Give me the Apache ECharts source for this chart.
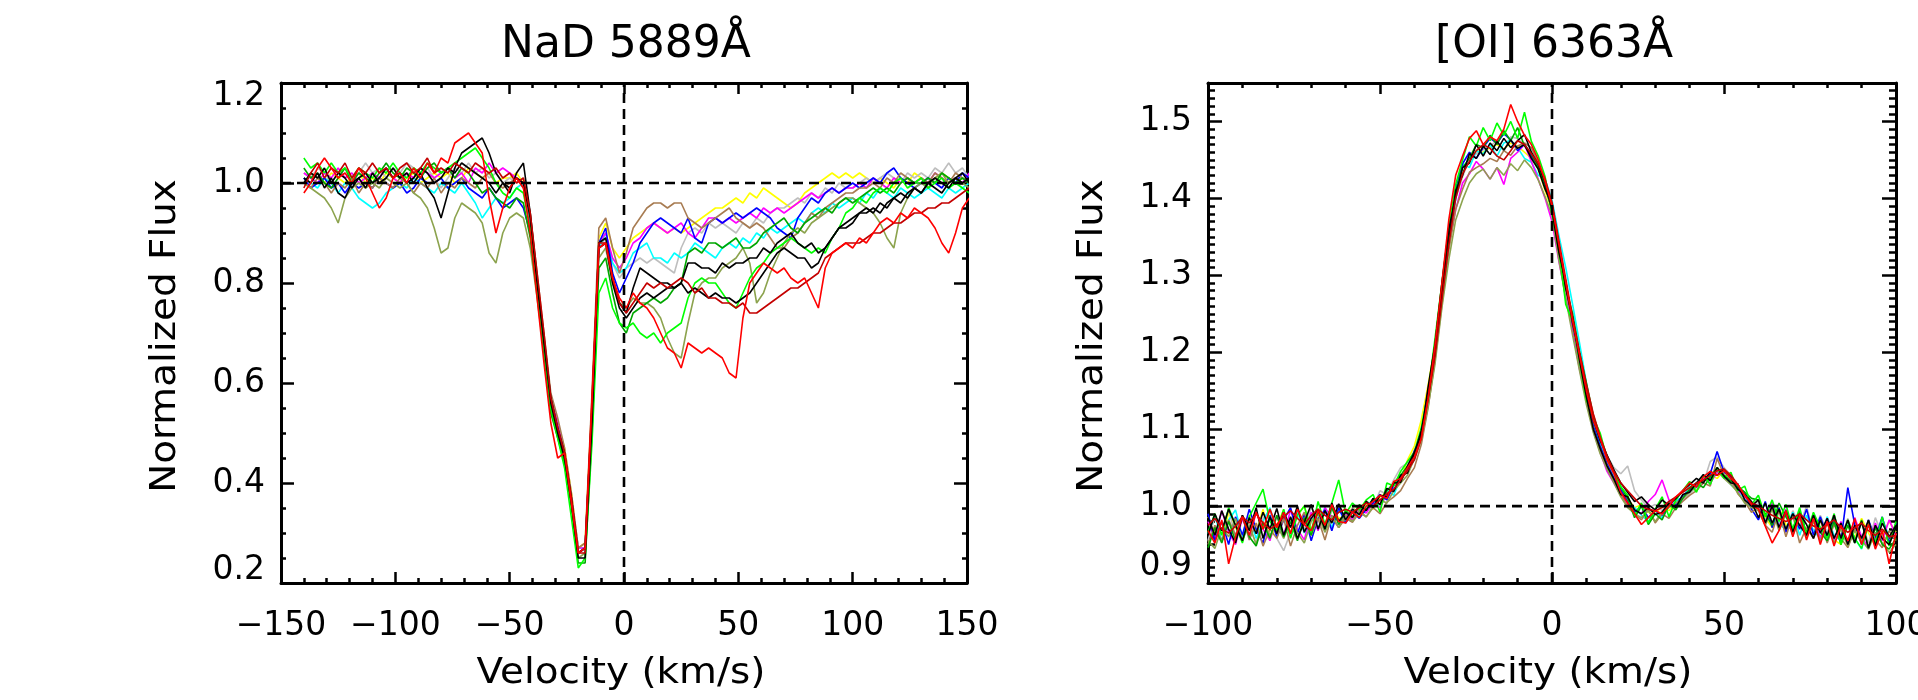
<!DOCTYPE html>
<html><head><meta charset="utf-8">
<script src="https://cdn.jsdelivr.net/npm/echarts@6/dist/echarts.min.js"></script>
<style>html,body{margin:0;padding:0;background:#fff}#c{width:1918px;height:700px}</style>
</head><body><div id="c"></div>
<script>
// ---------------- NaD 5889 panel ----------------
const naTitle = 'NaD 5889Å';
const naXRange = [-150, 150];
const naYRange = [0.2, 1.2];
const naXStep = 50, naYStep = 0.2;
const naVel = [
-140,-137,-134,-131,-128,-125,-122,-119,-116,-113,
-110,-107,-104,-101,-98,-95,-92,-89,-86,-83,
-80,-77,-74,-71,-68,-65,-62,-59,-56,-53,
-50,-47,-44,-41,-38,-35,-32,-29,-26,-23,
-20,-17,-14,-11,-8,-5,-2,1,4,7,
10,13,16,19,22,25,28,31,34,37,
40,43,46,49,52,55,58,61,64,67,
70,73,76,79,82,85,88,91,94,97,
100,103,106,109,112,115,118,121,124,127,
130,133,136,139,142,145,148,151];
const naBlackA = [
1.01,1.00,1.02,0.99,1.01,0.98,0.97,1.00,1.01,0.99,
1.02,1.00,1.01,1.03,1.01,1.02,1.00,1.02,0.99,0.97,
0.93,0.98,1.03,1.06,1.07,1.08,1.09,1.06,1.02,1.00,
0.98,1.02,1.04,0.94,0.81,0.69,0.57,0.51,0.46,0.37,
0.26,0.27,0.55,0.88,0.89,0.81,0.76,0.74,0.79,0.83,
0.82,0.81,0.80,0.80,0.79,0.80,0.84,0.84,0.83,0.83,
0.82,0.84,0.83,0.84,0.84,0.85,0.85,0.87,0.86,0.88,
0.89,0.90,0.88,0.87,0.88,0.86,0.87,0.89,0.91,0.91,
0.92,0.94,0.94,0.95,0.94,0.96,0.97,0.96,0.98,0.99,
0.98,1.00,0.99,0.98,1.00,1.01,1.00,1.01];
const naBlackB = [
1.00,1.02,1.01,1.03,1.00,1.02,1.01,0.99,1.01,1.02,
1.00,1.01,1.03,1.01,1.02,1.00,1.01,1.03,1.02,1.00,
1.01,1.03,1.02,1.04,1.03,1.02,1.01,1.00,0.98,1.00,
0.99,1.01,1.00,0.93,0.80,0.68,0.56,0.50,0.45,0.36,
0.25,0.25,0.52,0.87,0.88,0.80,0.75,0.73,0.75,0.77,
0.78,0.77,0.78,0.79,0.79,0.80,0.78,0.79,0.78,0.77,
0.78,0.77,0.77,0.76,0.77,0.78,0.80,0.82,0.84,0.86,
0.87,0.86,0.85,0.85,0.83,0.84,0.87,0.89,0.91,0.92,
0.93,0.94,0.95,0.94,0.96,0.95,0.97,0.98,0.97,0.99,
0.98,1.00,1.01,1.00,0.99,1.01,1.02,1.00];
const naRed = [
0.98,1.00,1.03,1.05,1.03,1.01,1.02,1.00,1.03,1.01,
0.98,0.95,0.97,1.01,1.02,1.00,1.03,1.01,1.04,1.02,
1.05,1.04,1.08,1.09,1.10,1.08,1.06,0.97,0.90,0.95,
0.99,1.01,0.99,0.90,0.77,0.64,0.52,0.45,0.46,0.36,
0.26,0.27,0.57,0.87,0.88,0.81,0.77,0.75,0.78,0.76,
0.75,0.73,0.70,0.67,0.66,0.63,0.68,0.67,0.66,0.67,
0.66,0.65,0.62,0.61,0.73,0.80,0.82,0.84,0.83,0.82,
0.83,0.81,0.80,0.81,0.78,0.75,0.83,0.86,0.87,0.88,
0.87,0.89,0.88,0.90,0.92,0.93,0.92,0.94,0.93,0.95,
0.94,0.93,0.91,0.88,0.86,0.90,0.95,0.97];
const naDarkRed = [
0.99,1.02,1.04,1.01,1.03,1.02,1.04,1.01,1.03,1.02,
1.04,1.02,1.03,1.01,1.03,1.04,1.02,1.03,1.05,1.02,
1.03,1.02,1.04,1.03,1.02,1.04,1.03,1.02,1.03,1.01,
1.02,1.00,1.01,0.94,0.82,0.70,0.57,0.51,0.46,0.37,
0.26,0.26,0.56,0.88,0.88,0.81,0.76,0.74,0.76,0.78,
0.80,0.79,0.80,0.79,0.80,0.81,0.80,0.78,0.79,0.77,
0.77,0.76,0.76,0.75,0.76,0.74,0.74,0.75,0.76,0.77,
0.78,0.79,0.79,0.80,0.81,0.82,0.85,0.86,0.87,0.88,
0.88,0.88,0.89,0.90,0.90,0.91,0.92,0.92,0.93,0.94,
0.94,0.95,0.95,0.96,0.96,0.97,0.98,0.99];
const naLime = [
1.05,1.03,1.04,1.02,1.04,1.02,1.03,1.01,1.03,1.02,
1.01,1.03,1.02,1.04,1.02,1.01,1.03,1.02,1.04,1.03,
1.02,1.03,1.04,1.05,1.06,1.07,1.05,1.03,1.00,0.98,
0.97,0.99,0.98,0.91,0.79,0.67,0.55,0.49,0.43,0.33,
0.23,0.25,0.48,0.78,0.81,0.75,0.72,0.71,0.72,0.70,
0.69,0.70,0.68,0.70,0.71,0.72,0.77,0.80,0.81,0.80,
0.80,0.78,0.76,0.75,0.78,0.81,0.83,0.84,0.86,0.87,
0.88,0.89,0.88,0.87,0.86,0.87,0.86,0.89,0.91,0.94,
0.95,0.97,0.96,0.98,0.99,0.98,1.00,1.01,0.99,1.00,
1.01,0.99,1.00,1.01,0.99,1.00,0.99,0.98];
const naDarkGreen = [
1.03,1.01,1.02,1.00,0.99,1.01,1.03,1.00,1.02,1.01,
1.00,1.02,1.04,1.02,1.01,1.03,1.02,1.01,1.03,1.04,
1.02,1.03,1.01,1.03,1.02,1.00,0.98,0.99,0.97,0.96,
0.95,0.97,0.96,0.89,0.78,0.66,0.54,0.49,0.44,0.35,
0.24,0.24,0.50,0.83,0.85,0.78,0.72,0.70,0.74,0.75,
0.76,0.77,0.76,0.77,0.79,0.80,0.86,0.87,0.86,0.88,
0.88,0.87,0.88,0.89,0.87,0.87,0.88,0.90,0.91,0.92,
0.93,0.91,0.90,0.92,0.93,0.94,0.95,0.94,0.96,0.97,
0.96,0.97,0.98,0.99,0.98,0.99,0.98,1.00,1.01,1.00,
1.00,1.01,1.00,1.02,1.01,1.00,1.01,1.00];
const naOlive = [
1.00,0.99,0.98,0.97,0.95,0.92,0.97,0.99,1.00,0.99,
1.00,0.99,1.01,1.00,0.99,1.00,0.98,0.97,0.95,0.91,
0.86,0.87,0.93,0.96,0.95,0.94,0.92,0.86,0.84,0.90,
0.93,0.94,0.93,0.87,0.77,0.66,0.54,0.50,0.45,0.36,
0.25,0.26,0.53,0.85,0.87,0.80,0.76,0.75,0.77,0.76,
0.76,0.75,0.73,0.69,0.66,0.65,0.72,0.78,0.80,0.81,
0.81,0.83,0.84,0.85,0.87,0.84,0.76,0.78,0.82,0.85,
0.88,0.90,0.91,0.90,0.92,0.93,0.94,0.95,0.96,0.97,
0.97,0.96,0.95,0.94,0.92,0.89,0.87,0.94,0.97,0.99,
1.00,0.99,1.01,1.02,1.00,1.01,1.00,0.99];
const naCyan = [
1.01,1.00,0.99,1.01,1.00,0.98,1.00,0.99,0.97,0.96,
0.95,0.96,0.98,0.99,1.00,0.99,1.01,1.00,0.99,0.98,
1.00,0.99,0.98,1.00,0.98,0.96,0.93,0.95,0.97,0.96,
0.97,0.99,1.00,0.92,0.79,0.67,0.55,0.51,0.46,0.37,
0.27,0.27,0.54,0.87,0.90,0.84,0.82,0.83,0.86,0.87,
0.88,0.85,0.85,0.84,0.86,0.85,0.86,0.88,0.87,0.86,
0.85,0.87,0.88,0.87,0.89,0.88,0.90,0.89,0.91,0.90,
0.91,0.92,0.93,0.92,0.94,0.95,0.94,0.96,0.95,0.96,
0.97,0.96,0.98,0.97,0.99,0.98,0.97,0.99,0.98,0.97,
0.98,0.99,0.98,0.97,0.99,0.98,0.99,1.00];
const naBlue = [
1.01,0.99,1.00,1.01,0.99,1.00,0.98,1.00,0.99,1.00,
0.99,1.01,1.00,0.99,1.00,0.98,0.99,1.01,1.00,1.00,
1.01,0.99,1.00,1.01,0.99,0.98,0.97,0.99,0.97,0.95,
0.96,0.97,0.95,0.90,0.79,0.68,0.56,0.51,0.45,0.37,
0.26,0.27,0.55,0.88,0.91,0.82,0.78,0.81,0.84,0.88,
0.90,0.92,0.93,0.92,0.91,0.90,0.93,0.89,0.88,0.92,
0.93,0.92,0.93,0.94,0.93,0.94,0.95,0.94,0.93,0.91,
0.90,0.89,0.93,0.95,0.97,0.96,0.98,0.99,0.98,0.99,
1.00,0.99,1.00,1.01,1.00,1.02,1.03,1.01,1.00,0.99,
1.00,1.01,1.00,0.99,1.01,1.00,1.02,1.01];
const naMagenta = [
1.02,1.01,1.00,1.02,1.01,1.03,1.01,1.02,1.00,1.01,
1.02,1.01,1.03,1.01,1.00,1.02,1.01,1.03,1.02,1.01,
1.02,1.03,1.01,1.02,1.00,1.03,1.02,1.04,1.02,1.03,
1.02,1.01,1.00,0.93,0.80,0.69,0.57,0.52,0.46,0.37,
0.27,0.27,0.55,0.88,0.90,0.85,0.83,0.85,0.88,0.89,
0.91,0.92,0.91,0.90,0.91,0.92,0.90,0.89,0.91,0.93,
0.93,0.92,0.93,0.92,0.93,0.94,0.93,0.95,0.94,0.95,
0.94,0.95,0.96,0.97,0.98,0.97,0.98,0.99,0.98,0.99,
0.99,1.00,0.99,1.01,1.00,0.99,1.01,1.00,1.01,1.00,
1.01,1.00,1.02,1.01,1.00,1.01,1.00,1.02];
const naYellow = [
1.00,1.02,1.01,1.00,1.02,1.01,1.00,1.01,1.02,1.00,
1.01,1.00,1.02,1.01,1.00,1.01,1.02,1.00,1.01,1.02,
1.01,1.02,1.00,1.01,1.03,1.02,1.01,1.02,1.00,1.01,
1.01,1.02,1.00,0.93,0.81,0.69,0.57,0.52,0.47,0.38,
0.27,0.28,0.56,0.89,0.92,0.87,0.85,0.87,0.89,0.90,
0.91,0.92,0.91,0.90,0.91,0.90,0.91,0.92,0.93,0.94,
0.95,0.95,0.96,0.97,0.96,0.98,0.97,0.99,0.98,0.97,
0.96,0.95,0.96,0.98,0.99,1.00,1.01,1.02,1.01,1.02,
1.01,1.02,1.01,1.00,1.01,1.00,0.99,1.01,1.00,1.02,
1.01,1.00,1.01,1.02,1.01,1.00,1.01,1.00];
const naGrey = [
1.02,1.01,1.03,1.02,1.00,1.02,1.03,1.01,1.02,1.04,
1.02,1.03,1.01,1.03,1.02,1.04,1.03,1.02,1.03,1.01,
0.99,1.01,1.03,1.02,1.04,1.02,1.03,1.01,1.02,1.00,
1.01,1.00,1.01,0.93,0.80,0.68,0.56,0.51,0.46,0.37,
0.26,0.27,0.54,0.87,0.89,0.84,0.81,0.83,0.84,0.85,
0.84,0.85,0.84,0.83,0.82,0.87,0.90,0.91,0.90,0.92,
0.91,0.92,0.91,0.90,0.92,0.91,0.93,0.92,0.94,0.95,
0.95,0.96,0.97,0.96,0.98,0.97,0.99,0.98,1.00,0.99,
0.99,1.00,1.01,1.00,1.01,1.02,1.01,1.00,1.02,1.01,
1.02,1.01,1.03,1.02,1.04,1.02,1.03,1.01];
const naBrown = [
1.00,0.99,1.01,1.00,0.98,1.00,0.99,1.01,0.98,1.00,
0.99,1.01,1.00,0.99,1.01,1.00,0.98,1.00,0.99,1.01,
0.98,1.00,0.99,1.01,1.00,0.99,1.01,1.02,1.00,0.99,
1.00,1.01,0.99,0.94,0.82,0.70,0.58,0.53,0.47,0.38,
0.27,0.28,0.58,0.91,0.93,0.87,0.82,0.86,0.91,0.93,
0.95,0.96,0.96,0.95,0.96,0.96,0.93,0.92,0.91,0.92,
0.93,0.94,0.95,0.93,0.92,0.91,0.92,0.91,0.89,0.87,
0.87,0.89,0.90,0.92,0.94,0.93,0.95,0.96,0.97,0.98,
0.98,0.99,0.99,1.00,0.99,1.01,1.00,1.02,1.01,1.00,
1.01,1.00,1.02,1.01,1.00,1.02,1.01,1.00];

// ---------------- [OI] 6363 panel ----------------
const oiTitle = '[OI] 6363Å';
const oiXRange = [-100, 100];
const oiYRange = [0.9, 1.55];
const oiXStep = 50, oiYStep = 0.1;
const oiVel = [
-100,-98,-96,-94,-92,-90,-88,-86,-84,-82,
-80,-78,-76,-74,-72,-70,-68,-66,-64,-62,
-60,-58,-56,-54,-52,-50,-48,-46,-44,-42,
-40,-38,-36,-34,-32,-30,-28,-26,-24,-22,
-20,-18,-16,-14,-12,-10,-8,-6,-4,-2,
0,2,4,6,8,10,12,14,16,18,
20,22,24,26,28,30,32,34,36,38,
40,42,44,46,48,50,52,54,56,58,
60,62,64,66,68,70,72,74,76,78,
80,82,84,86,88,90,92,94,96,98,
100];
const oiBlackA = [
0.962,0.990,0.968,0.996,0.975,0.955,0.985,0.964,0.992,0.970,
0.997,0.962,0.986,0.958,0.979,1.002,0.970,0.994,0.978,1.003,
0.982,0.996,0.989,1.006,0.998,1.014,1.012,1.030,1.031,1.052,
1.070,1.092,1.155,1.210,1.290,1.360,1.402,1.440,1.446,1.470,
1.455,1.472,1.462,1.478,1.466,1.475,1.483,1.460,1.444,1.421,
1.385,1.330,1.292,1.238,1.198,1.150,1.112,1.085,1.066,1.047,
1.030,1.018,1.006,1.012,1.002,0.995,1.008,1.001,1.010,1.020,
1.028,1.036,1.030,1.045,1.040,1.048,1.036,1.022,1.015,1.006,
0.985,1.004,0.978,0.996,0.970,0.990,0.975,0.962,0.988,0.965,
0.984,0.958,0.978,0.950,0.975,0.958,0.982,0.948,0.978,0.960,
0.975];
const oiBlackB = [
0.985,0.962,0.994,0.970,0.952,0.988,0.968,0.998,0.958,0.986,
0.964,0.992,0.972,1.000,0.966,0.984,0.996,0.970,1.004,0.980,
0.992,0.985,1.001,0.994,1.010,1.002,1.023,1.019,1.040,1.043,
1.068,1.098,1.142,1.200,1.276,1.345,1.410,1.430,1.458,1.452,
1.468,1.457,1.474,1.463,1.476,1.465,1.470,1.452,1.438,1.412,
1.392,1.340,1.283,1.245,1.190,1.142,1.100,1.075,1.052,1.035,
1.015,1.012,0.995,0.990,0.998,0.989,0.992,1.004,0.998,1.015,
1.018,1.030,1.041,1.033,1.050,1.039,1.030,1.029,1.008,1.000,
1.008,0.978,1.000,0.972,0.994,0.966,0.990,0.976,0.958,0.982,
0.962,0.988,0.958,0.982,0.952,0.980,0.945,0.975,0.958,0.950,
0.972];
const oiCyan = [
0.964,0.988,0.955,0.982,0.995,0.960,0.986,0.958,0.980,0.998,
0.968,0.990,0.960,0.994,0.965,0.986,0.970,0.999,0.972,0.995,
0.981,0.994,0.986,1.000,1.008,0.998,1.021,1.014,1.037,1.046,
1.060,1.100,1.148,1.205,1.275,1.348,1.398,1.445,1.440,1.462,
1.458,1.470,1.455,1.472,1.476,1.466,1.452,1.447,1.430,1.425,
1.398,1.352,1.310,1.262,1.212,1.160,1.112,1.082,1.060,1.040,
1.022,1.004,0.998,0.988,0.980,0.994,0.985,1.000,1.006,1.012,
1.025,1.030,1.040,1.036,1.046,1.038,1.028,1.020,1.010,1.000,
1.000,0.980,1.002,0.976,0.970,0.992,0.962,0.988,0.968,0.958,
0.986,0.962,0.955,0.980,0.958,0.944,0.976,0.955,0.984,0.960,
0.962];
const oiBlue = [
0.990,0.955,0.980,0.950,0.986,0.962,0.996,0.970,0.952,0.988,
0.960,0.982,0.998,0.964,0.990,0.955,0.984,0.995,0.968,0.998,
0.978,0.992,0.984,0.996,1.004,1.015,1.008,1.027,1.038,1.046,
1.072,1.090,1.146,1.212,1.285,1.352,1.412,1.445,1.460,1.452,
1.466,1.478,1.472,1.484,1.476,1.462,1.471,1.455,1.440,1.415,
1.386,1.338,1.285,1.236,1.190,1.148,1.104,1.078,1.055,1.036,
1.021,1.006,0.992,1.000,0.985,0.994,0.988,0.999,1.002,1.014,
1.020,1.025,1.033,1.042,1.071,1.044,1.038,1.024,1.018,0.996,
0.982,1.006,0.972,0.998,0.966,0.990,0.970,0.996,0.962,0.986,
0.960,0.984,0.955,1.024,0.976,0.950,0.982,0.958,0.986,0.952,
0.978];
const oiMagenta = [
0.980,0.958,0.994,0.966,0.950,0.984,0.960,0.992,0.970,0.955,
0.988,0.962,0.995,0.970,0.956,0.992,0.968,0.998,0.985,0.972,
0.990,0.982,0.996,0.991,1.004,0.998,1.016,1.022,1.033,1.050,
1.062,1.095,1.152,1.200,1.272,1.340,1.385,1.420,1.432,1.448,
1.438,1.425,1.440,1.418,1.452,1.460,1.470,1.448,1.425,1.400,
1.370,1.318,1.272,1.228,1.178,1.138,1.098,1.070,1.045,1.030,
1.014,1.002,0.995,0.990,1.006,1.015,1.034,1.008,0.999,1.010,
1.021,1.027,1.036,1.030,1.044,1.040,1.032,1.021,1.012,1.004,
1.000,0.978,1.004,0.972,0.996,0.966,0.992,0.962,0.988,0.958,
0.984,0.956,0.980,0.950,0.985,0.960,0.946,0.978,0.955,0.982,
0.962];
const oiYellow = [
0.986,0.965,0.955,0.992,0.972,0.954,0.988,0.966,0.996,0.958,
0.975,0.995,0.965,0.988,1.000,0.968,0.992,0.974,1.002,0.984,
0.986,0.998,0.992,1.002,0.996,1.012,1.018,1.028,1.034,1.060,
1.078,1.112,1.158,1.210,1.282,1.352,1.400,1.432,1.450,1.462,
1.460,1.466,1.470,1.464,1.472,1.468,1.460,1.452,1.438,1.410,
1.384,1.330,1.280,1.236,1.192,1.146,1.108,1.078,1.058,1.040,
1.022,1.010,0.998,1.002,0.992,0.990,1.000,0.994,1.004,1.012,
1.024,1.020,1.034,1.040,1.036,1.046,1.030,1.020,1.016,0.998,
1.000,0.985,0.972,0.998,0.976,0.968,0.992,0.964,0.986,0.958,
0.980,0.956,0.950,0.982,0.958,0.984,0.965,0.948,0.962,0.980,
0.966];
const oiGrey = [
0.955,0.986,0.968,0.996,0.960,0.988,0.972,0.952,0.984,0.994,
0.958,0.942,0.966,0.990,0.970,0.998,0.984,0.966,0.994,1.002,
0.983,0.998,0.990,1.007,0.999,1.020,1.015,1.034,1.050,1.056,
1.072,1.098,1.150,1.206,1.282,1.350,1.400,1.428,1.452,1.458,
1.463,1.468,1.475,1.461,1.480,1.478,1.470,1.458,1.442,1.416,
1.390,1.336,1.290,1.242,1.195,1.150,1.110,1.088,1.066,1.050,
1.042,1.052,1.020,1.008,0.998,1.002,0.994,1.006,1.010,1.008,
1.016,1.024,1.030,1.058,1.064,1.050,1.040,1.026,1.012,1.004,
1.004,0.976,0.998,0.980,0.968,0.994,0.975,1.000,0.966,0.988,
0.966,0.990,0.958,0.984,0.955,0.978,0.952,0.985,0.962,0.955,
0.964];
const oiBrown = [
0.950,0.975,0.955,0.982,0.962,0.988,0.956,0.978,0.948,0.970,
0.958,0.984,0.948,0.975,0.992,0.962,0.984,0.956,0.988,0.972,
0.984,0.979,0.992,0.986,0.998,0.990,1.005,1.012,1.020,1.036,
1.050,1.080,1.128,1.190,1.262,1.332,1.386,1.412,1.434,1.440,
1.445,1.452,1.448,1.462,1.456,1.468,1.472,1.466,1.446,1.420,
1.392,1.338,1.286,1.238,1.188,1.140,1.100,1.074,1.052,1.032,
1.014,1.000,0.990,0.982,0.996,0.978,0.990,0.984,0.998,1.006,
1.014,1.020,1.030,1.026,1.062,1.040,1.035,1.016,1.006,0.992,
0.998,0.975,0.966,0.994,0.960,0.988,0.952,0.972,0.958,0.982,
0.952,0.976,0.958,0.946,0.970,0.952,0.980,0.956,0.946,0.968,
0.955];
const oiOlive = [
0.955,0.945,0.972,0.960,0.984,0.956,0.976,0.950,0.980,0.962,
0.976,0.958,0.984,0.965,0.952,0.980,0.990,0.966,0.986,0.972,
0.988,0.980,0.994,0.986,1.000,1.008,1.004,1.020,1.030,1.040,
1.062,1.086,1.130,1.185,1.258,1.320,1.372,1.398,1.420,1.432,
1.438,1.425,1.440,1.430,1.445,1.436,1.450,1.440,1.424,1.402,
1.378,1.320,1.270,1.222,1.176,1.132,1.096,1.068,1.048,1.030,
1.012,0.998,0.990,0.985,0.994,0.980,0.992,0.998,1.004,1.010,
1.018,1.026,1.032,1.038,1.046,1.036,1.028,1.018,1.004,0.998,
0.994,0.975,0.996,0.968,0.990,0.962,0.984,0.960,0.980,0.955,
0.978,0.952,0.970,0.948,0.968,0.956,0.944,0.966,0.952,0.940,
0.950];
const oiLime = [
0.966,0.990,0.962,0.998,0.975,0.952,0.986,1.004,1.022,0.980,
0.968,0.996,0.958,0.988,1.000,0.966,1.006,0.976,1.004,1.034,
0.990,1.004,0.995,1.008,1.015,0.992,1.030,1.026,1.045,1.058,
1.070,1.102,1.148,1.218,1.290,1.362,1.418,1.450,1.480,1.468,
1.492,1.475,1.498,1.482,1.500,1.478,1.512,1.474,1.455,1.428,
1.380,1.335,1.262,1.240,1.188,1.138,1.115,1.095,1.062,1.045,
1.025,1.014,0.988,1.004,0.978,0.996,1.012,0.986,1.008,1.020,
1.032,1.018,1.040,1.028,1.050,1.036,1.044,1.020,1.026,1.002,
1.014,0.986,1.008,0.980,1.002,0.970,0.998,0.962,0.992,0.972,
0.958,0.990,0.950,0.982,0.958,0.945,0.976,0.952,0.986,0.948,
0.980];
const oiDarkGreen = [
0.946,0.972,0.952,0.980,0.955,0.986,0.960,0.948,0.978,0.958,
0.988,0.960,0.980,0.955,0.985,0.962,0.994,0.970,0.998,0.976,
0.994,0.986,1.002,0.995,1.010,1.002,1.020,1.030,1.040,1.052,
1.068,1.094,1.140,1.205,1.285,1.355,1.408,1.440,1.452,1.470,
1.466,1.482,1.470,1.488,1.475,1.492,1.468,1.458,1.440,1.418,
1.384,1.332,1.284,1.250,1.200,1.160,1.118,1.090,1.065,1.046,
1.025,1.010,0.985,1.000,0.976,0.990,0.982,1.002,0.995,1.010,
1.022,1.030,1.024,1.038,1.050,1.040,1.032,1.025,1.018,1.010,
1.008,0.990,0.975,1.004,0.986,0.970,0.994,0.965,0.990,0.966,
0.955,0.980,0.950,0.975,0.952,0.982,0.946,0.972,0.950,0.944,
0.958];
const oiRed = [
0.968,0.952,0.982,0.925,0.960,0.986,0.962,0.992,0.970,0.996,
0.972,0.992,0.964,0.996,0.976,0.968,0.994,0.975,1.002,0.980,
0.978,0.992,0.985,1.000,1.006,1.014,1.010,1.032,1.036,1.050,
1.064,1.088,1.140,1.210,1.290,1.372,1.430,1.455,1.478,1.488,
1.470,1.480,1.475,1.490,1.522,1.500,1.482,1.470,1.450,1.422,
1.390,1.340,1.290,1.240,1.196,1.150,1.112,1.088,1.060,1.042,
1.018,1.004,0.990,0.976,0.985,0.994,0.990,1.000,1.012,1.020,
1.030,1.025,1.038,1.045,1.040,1.046,1.036,1.028,1.014,1.002,
0.996,0.974,0.952,0.968,0.994,0.960,0.988,0.956,0.984,0.950,
0.980,0.948,0.975,0.955,0.984,0.950,0.976,0.944,0.968,0.925,
0.965];
const oiDarkRed = [
0.975,0.984,0.970,0.965,0.974,0.986,0.978,0.990,0.978,0.970,
0.976,0.986,0.994,0.984,0.976,0.988,0.996,0.988,0.982,0.992,
0.996,0.992,0.998,1.004,1.000,1.008,1.016,1.022,1.034,1.046,
1.060,1.088,1.140,1.195,1.268,1.340,1.400,1.432,1.448,1.462,
1.470,1.465,1.455,1.450,1.462,1.475,1.470,1.458,1.445,1.425,
1.395,1.345,1.295,1.245,1.200,1.158,1.120,1.090,1.065,1.045,
1.030,1.020,1.010,1.000,0.996,0.994,0.998,1.006,1.012,1.018,
1.024,1.030,1.034,1.040,1.046,1.048,1.040,1.028,1.014,1.004,
1.000,0.994,0.988,0.984,0.980,0.984,0.990,0.982,0.974,0.970,
0.976,0.982,0.972,0.966,0.972,0.978,0.968,0.962,0.970,0.960,
0.962];

// reference guides (continuum level and rest velocity)
const continuumLevel = 1.0;
const restVelocity = 0;

// drawing order and colours (one per epoch)
const naSpectra = [naYellow, naGrey, naCyan, naMagenta, naBlue, naBrown, naOlive, naDarkGreen, naLime, naBlackB, naBlackA, naDarkRed, naRed];
const oiSpectra = [oiYellow, oiGrey, oiCyan, oiMagenta, oiBlue, oiBrown, oiOlive, oiDarkGreen, oiLime, oiBlackB, oiBlackA, oiDarkRed, oiRed];
const lineColors = ['#ffff00','#bebebe','#00ffff','#ff00ff','#0000ff','#a87c52','#8ca34e','#00a600','#00ff00','#000000','#000000','#c40000','#ff0000'];

const FONT = 'DejaVu Sans';
const chart = echarts.init(document.getElementById('c'), null, {renderer: 'canvas', width: 1918, height: 700});

function pairs(xs, ys) { return xs.map((x, i) => [x, ys[i]]); }
function fmtX(v) { return (v < 0 ? '\u2212' : '') + Math.abs(v); }
function makeFmtY(range) {
  return function (v) {
    if (Math.abs(v * 10 - Math.round(v * 10)) > 1e-6) return '';
    const s = v.toFixed(1);
    if (Math.abs(v - range[0]) < 1e-9) return '{lo|' + s + '}';
    if (Math.abs(v - range[1]) < 1e-9) return '{hi|' + s + '}';
    return s;
  };
}
const lblBase = {color: '#000', fontFamily: FONT, fontSize: 33};
function axisCommon(gi) {
  return {type: 'value', gridIndex: gi, splitLine: {show: false}, scale: false,
    axisLine: {show: true, onZero: false, lineStyle: {color: '#000', width: 3}}};
}
function xAxesFor(gi, range, step, minorSplit) {
  const tick = {show: true, inside: true, length: 11, lineStyle: {color: '#000', width: 2.5}};
  const minor = {show: true, splitNumber: minorSplit, length: 5, lineStyle: {color: '#000', width: 2.5}};
  return [
    Object.assign(axisCommon(gi), {position: 'bottom', min: range[0], max: range[1], interval: step,
      axisTick: tick, minorTick: minor,
      axisLabel: Object.assign({show: true, margin: 27, showMinLabel: true, showMaxLabel: true, formatter: fmtX}, lblBase)}),
    Object.assign(axisCommon(gi), {position: 'top', min: range[0], max: range[1], interval: step,
      axisTick: tick, minorTick: minor, axisLabel: {show: false}})
  ];
}
function yAxesFor(gi, range, step, minorSplit, majLen, minLen, padLo) {
  const tick = {show: true, inside: true, length: majLen, lineStyle: {color: '#000', width: 2.5}};
  const minor = {show: true, splitNumber: minorSplit, length: minLen, lineStyle: {color: '#000', width: 2.5}};
  return [
    Object.assign(axisCommon(gi), {position: 'left', min: range[0], max: range[1], interval: step,
      axisTick: tick, minorTick: minor,
      axisLabel: Object.assign({show: true, margin: 16, showMinLabel: true, showMaxLabel: true,
        formatter: makeFmtY(range),
        rich: {lo: Object.assign({padding: [0, 0, padLo, 0]}, lblBase), hi: Object.assign({padding: [26, 0, 0, 0]}, lblBase)}}, lblBase)}),
    Object.assign(axisCommon(gi), {position: 'right', min: range[0], max: range[1], interval: step,
      axisTick: tick, minorTick: minor, axisLabel: {show: false}})
  ];
}

const series = [];
function addPanel(vel, spectra, xi, yi, xr, yr) {
  spectra.forEach((arr, k) => {
    series.push({type: 'line', xAxisIndex: xi, yAxisIndex: yi, data: pairs(vel, arr),
      showSymbol: false, symbol: 'none', silent: true, animation: false, z: 2,
      lineStyle: {color: lineColors[k], width: 1.6}, itemStyle: {color: lineColors[k]}});
  });
  const dash = {color: '#000', width: 2.6, type: [10, 6]};
  series.push({type: 'line', xAxisIndex: xi, yAxisIndex: yi, symbol: 'none', silent: true, animation: false, z: 5,
    data: [[xr[0], continuumLevel], [xr[1], continuumLevel]], lineStyle: dash});
  series.push({type: 'line', xAxisIndex: xi, yAxisIndex: yi, symbol: 'none', silent: true, animation: false, z: 5,
    data: [[restVelocity, yr[0]], [restVelocity, yr[1]]], lineStyle: dash});
}
addPanel(naVel, naSpectra, 0, 0, naXRange, naYRange);
addPanel(oiVel, oiSpectra, 2, 2, oiXRange, oiYRange);

function gtext(x, y, text, size, rot, sx) {
  return {type: 'text', x: x, y: y, rotation: rot || 0, scaleX: sx || 1, silent: true,
    style: {text: text, fontSize: size, fontFamily: FONT, fill: '#000',
      align: 'center', verticalAlign: 'middle', textAlign: 'center', textVerticalAlign: 'middle'}};
}

chart.setOption({
  animation: false,
  backgroundColor: '#ffffff',
  textStyle: {fontFamily: FONT},
  grid: [
    {left: 281, top: 83, width: 686, height: 500, outerBoundsMode: 'none', containLabel: false},
    {left: 1208, top: 83, width: 688, height: 500, outerBoundsMode: 'none', containLabel: false}
  ],
  xAxis: xAxesFor(0, naXRange, naXStep, 5).concat(xAxesFor(1, oiXRange, oiXStep, 5)),
  yAxis: yAxesFor(0, naYRange, naYStep, 4, 13, 5, 26).concat(yAxesFor(1, oiYRange, oiYStep, 10, 14, 7, 34)),
  series: series,
  graphic: [
    gtext(626, 46, naTitle, 44),
    gtext(1554, 46, oiTitle, 44),
    gtext(166, 336, 'Normalized Flux', 36, Math.PI / 2, 1.08),
    gtext(1093, 336, 'Normalized Flux', 36, Math.PI / 2, 1.08),
    gtext(621, 674, 'Velocity (km/s)', 36, 0, 1.08),
    gtext(1548, 674, 'Velocity (km/s)', 36, 0, 1.08)
  ]
});
</script>
</body></html>
